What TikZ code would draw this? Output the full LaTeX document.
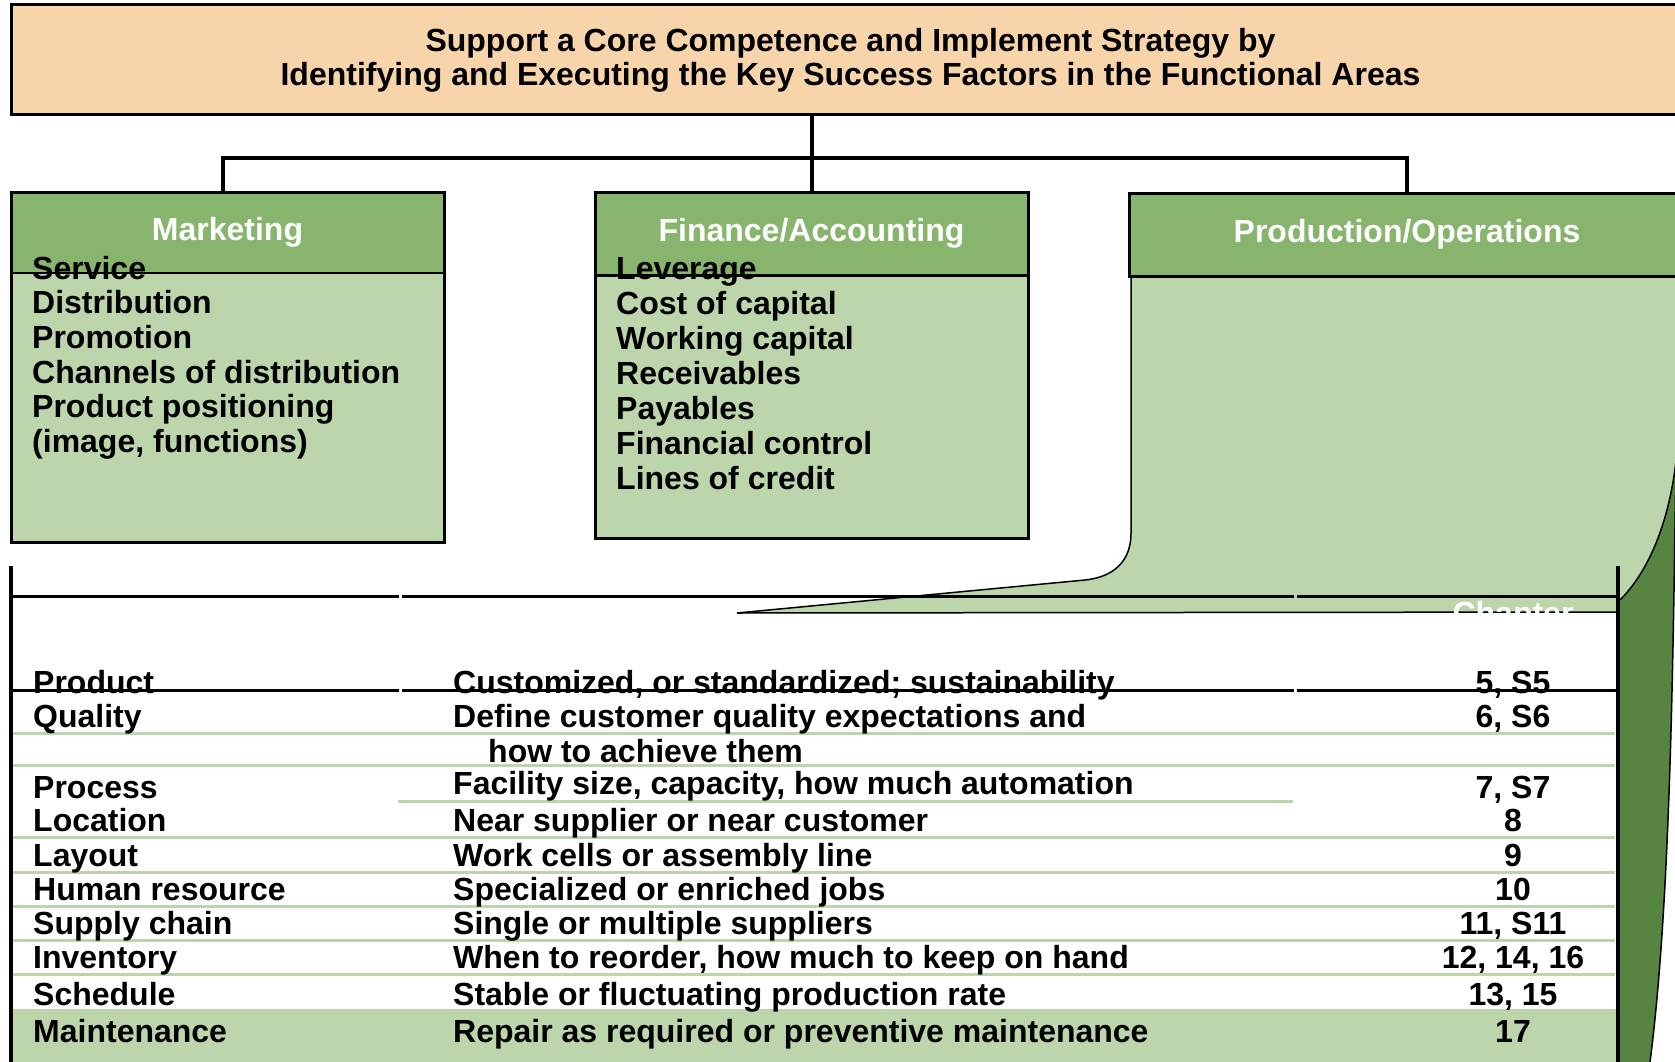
\documentclass[tikz,border=0pt]{standalone}
\usepackage{fontspec}
\setmainfont{Liberation Sans}
\definecolor{peach}{HTML}{F7D4AA}
\definecolor{hdrgreen}{HTML}{88B56E}
\definecolor{ltgreen}{HTML}{BCD5AB}
\definecolor{dkgreen}{HTML}{588441}
\tikzset{
 big/.style={font=\bfseries\fontsize{32}{34}\selectfont},
 item/.style={big, anchor=base west, inner sep=0pt},
 numtxt/.style={big, anchor=base, inner sep=0pt},
 band/.style={big, text=white, fill=hdrgreen, inner sep=0pt},
 conn/.style={line width=4pt},
 edgeline/.style={line width=1.5pt},
 gline/.style={ltgreen, line width=3pt},
 bline/.style={black, line width=3pt},
}
\newcommand\myrow[5]{\node[item] (#1a) at (33,#2) {#3}; \node[item] (#1b) at (453,#2) {#4}; \node[numtxt] (#1c) at (1513,#2) {#5};}
\begin{document}
\begin{tikzpicture}[x=1pt,y=-1pt]
\useasboundingbox (0,0) rectangle (1675,1062);
\clip (0,0) rectangle (1675,1062);

% production body (page)
\fill[ltgreen] (1131,276) -- (1131,533) .. controls (1131,568) and (1105,578) .. (1085,580) -- (737,613) -- (1618,612) -- (1620,600) .. controls (1645,575) and (1668,530) .. (1676,461) -- (1690,461) -- (1690,276) -- cycle;
\draw[edgeline] (1131,276) -- (1131,533) .. controls (1131,568) and (1105,578) .. (1085,580) -- (737,613) -- (1618,612);
\node[big, text=white, anchor=base, inner sep=0pt] (chap) at (1513,624) {Chapter};

% table area
\fill[white] (12,613.5) rectangle (1616,1062);
\fill[ltgreen] (12,1009) rectangle (1616,1062);
\foreach \yy in {733,765,837,872,906,940,974} \draw[gline] (12,\yy) -- (1615,\yy);
\draw[gline] (398,801) -- (1293,801);
\foreach \yy in {596,690} {
  \draw[bline] (11,\yy) -- (399,\yy);
  \draw[bline] (402,\yy) -- (1294,\yy);
  \draw[bline] (1297,\yy) -- (1618,\yy);
}

% curl
\fill[dkgreen] (1620,600) .. controls (1645,575) and (1668,530) .. (1676,461) .. controls (1673,650) and (1671,900) .. (1650,1062) -- (1620,1062) -- cycle;
\draw[edgeline] (1620,600) .. controls (1645,575) and (1668,530) .. (1676,461);
\draw[edgeline] (1676,461) .. controls (1673,650) and (1671,900) .. (1650,1062);

% borders
\draw[line width=3.5pt] (11,566) -- (11,1062);
\draw[line width=4.5pt] (1618,566) -- (1618,1062);

% header
\node[draw, line width=3pt, fill=peach, minimum width=1679pt, minimum height=110pt, inner sep=0pt, align=center, big] (hdr) at (850.5,60) {Support a Core Competence and Implement Strategy by\\Identifying and Executing the Key Success Factors in the Functional Areas};

% Marketing
\draw[line width=3pt, fill=ltgreen] (11,192) rectangle (444,542);
\node[band, minimum width=433pt, minimum height=81pt] (mkt) at (227.5,232.5) {Marketing};
\draw[line width=1.2pt] (11,273) -- (444,273);
\draw[line width=3pt] (11,192) rectangle (444,542);

% Finance
\draw[line width=3pt, fill=ltgreen] (595,192) rectangle (1028,538);
\node[band, minimum width=433pt, minimum height=83pt] (fin) at (811.5,233.5) {Finance/Accounting};
\draw[line width=3pt] (595,275) -- (1028,275);
\draw[line width=3pt] (595,192) rectangle (1028,538);

% Production header
\node[band, draw=black, line width=3pt, minimum width=556pt, minimum height=83pt] (prod) at (1407,234.5) {Production/Operations};

% connectors
\coordinate (bus) at (0,158);
\draw[conn] (hdr.south -| fin.north) -- (fin.north);
\draw[conn] ([xshift=-5pt]mkt.north) -- ([xshift=-5pt]mkt.north |- bus) -- (prod.north |- bus) -- (prod.north);

% Marketing items
\foreach \t [count=\i from 0] in {Service,Distribution,Promotion,Channels of distribution,Product positioning,{(image, functions)}}
  \node[item] (mi\i) at (32,{279+34.7*\i}) {\t};

% Finance items
\foreach \t [count=\i from 0] in {Leverage,Cost of capital,Working capital,Receivables,Payables,Financial control,Lines of credit}
  \node[item] (fi\i) at (616,{279+35*\i}) {\t};

% table rows
\myrow{prd}{693}{Product}{Customized, or standardized; sustainability}{5, S5}
\myrow{qua}{727}{Quality}{Define customer quality expectations and}{6, S6}
\node[item] (quab2) at (488,762) {how to achieve them};
\node[item] (proca) at (33,798) {Process};
\node[item] (procb) at (453,794) {Facility size, capacity, how much automation};
\node[numtxt] (procc) at (1513,798) {7, S7};
\myrow{loc}{831}{Location}{Near supplier or near customer}{8}
\myrow{lay}{866}{Layout}{Work cells or assembly line}{9}
\myrow{hum}{900}{Human resource}{Specialized or enriched jobs}{10}
\myrow{sup}{934}{Supply chain}{Single or multiple suppliers}{11, S11}
\myrow{inv}{968}{Inventory}{When to reorder, how much to keep on hand}{12, 14, 16}
\myrow{sch}{1005}{Schedule}{Stable or fluctuating production rate}{13, 15}
\myrow{mnt}{1042}{Maintenance}{Repair as required or preventive maintenance}{17}
\end{tikzpicture}
\end{document}
